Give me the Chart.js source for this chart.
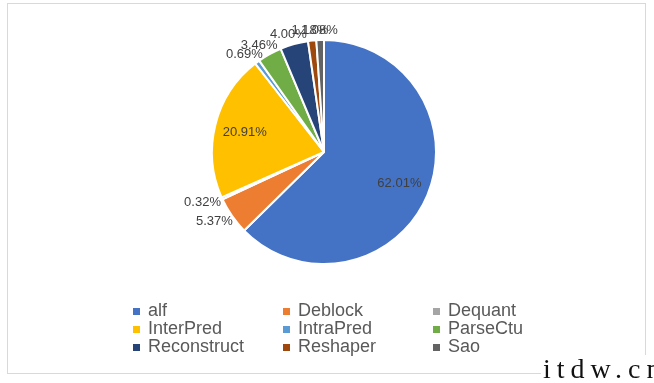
<!DOCTYPE html>
<html>
<head>
<meta charset="utf-8">
<script src="https://cdn.jsdelivr.net/npm/chart.js@4/dist/chart.umd.min.js"></script>
<style>
  html, body { margin: 0; padding: 0; background: #fff; }
  #wrap { position: relative; width: 654px; height: 383px; overflow: hidden; background: #fff; }
  #frame { position: absolute; left: 7px; top: 3px; width: 637px; height: 369px; border: 1px solid #d9d9d9; }
  #c { position: absolute; left: 0; top: 0; }
  #legend { position: absolute; left: 133px; top: 301px; font-family: "Liberation Sans", Arial, sans-serif; font-size: 18px; color: #595959; }
  .row { height: 18px; white-space: nowrap; }
  .item { display: inline-block; width: 150px; height: 18px; line-height: 18px; vertical-align: top; }
  .sw { display: inline-block; width: 7px; height: 7px; margin-right: 8px; vertical-align: 1px; }
  #wm { position: absolute; left: 541px; top: 355px; font-family: "Liberation Serif", "DejaVu Serif", serif; font-size: 28px; line-height: 28px; letter-spacing: 6px; color: #111; background: #fff; padding-left: 2px; white-space: nowrap; }
</style>
</head>
<body>
<div id="wrap">
  <div id="frame"></div>
  <canvas id="c" width="654" height="383"></canvas>
  <div id="legend"></div>
  <div id="wm">itdw.cn</div>
</div>
<script>
const categories = ['alf', 'Deblock', 'Dequant', 'InterPred', 'IntraPred', 'ParseCtu', 'Reconstruct', 'Reshaper', 'Sao'];
const values = [62.01, 5.37, 0.32, 20.91, 0.69, 3.46, 4.00, 1.18, 1.08];
const sliceColors = ['#4472C4', '#ED7D31', '#A5A5A5', '#FFC000', '#5B9BD5', '#70AD47', '#264478', '#9E480E', '#636363'];

const labelPlugin = {
  id: 'pieLabels',
  afterDatasetsDraw(chart) {
    const ctx = chart.ctx;
    const meta = chart.getDatasetMeta(0);
    ctx.save();
    ctx.font = '13px "Liberation Sans Narrow", "Liberation Sans", Arial, sans-serif';
    ctx.fillStyle = '#404040';
    ctx.textAlign = 'center';
    ctx.textBaseline = 'middle';
    meta.data.forEach((arc, i) => {
      const p = arc.getProps(['x', 'y', 'startAngle', 'endAngle', 'outerRadius'], true);
      const mid = (p.startAngle + p.endAngle) / 2;
      const txt = values[i].toFixed(2) + '%';
      const c = Math.cos(mid), s = Math.sin(mid);
      let tx, ty;
      if (values[i] > 10) {
        const r = p.outerRadius * 0.73;
        tx = p.x + c * r; ty = p.y + s * r;
      } else {
        const w = ctx.measureText(txt).width;
        const hw = w / 2, hh = 7;
        const r = p.outerRadius + 3;
        tx = p.x + c * r + c * hw;
        ty = p.y + s * r + s * hh;
      }
      ctx.fillText(txt, tx, ty);
    });
    ctx.restore();
  }
};

const chart = new Chart(document.getElementById('c'), {
  type: 'pie',
  data: {
    labels: categories,
    datasets: [{
      data: values,
      backgroundColor: sliceColors,
      borderColor: '#ffffff',
      borderWidth: 2
    }]
  },
  options: {
    responsive: false,
    animation: false,
    devicePixelRatio: 1,
    layout: { padding: { left: 211, right: 217, top: 39, bottom: 118 } },
    plugins: {
      legend: { display: false },
      tooltip: { enabled: false }
    }
  },
  plugins: [labelPlugin]
});

// HTML legend built from the chart's own legend items, 3 per row
const items = chart.options.plugins.legend.labels.generateLabels(chart);
const legend = document.getElementById('legend');
for (let r = 0; r < Math.ceil(items.length / 3); r++) {
  const row = document.createElement('div');
  row.className = 'row';
  items.slice(r * 3, r * 3 + 3).forEach(it => {
    const d = document.createElement('span');
    d.className = 'item';
    const sw = document.createElement('span');
    sw.className = 'sw';
    sw.style.background = it.fillStyle;
    d.appendChild(sw);
    d.appendChild(document.createTextNode(it.text));
    row.appendChild(d);
  });
  legend.appendChild(row);
}
</script>
</body>
</html>
